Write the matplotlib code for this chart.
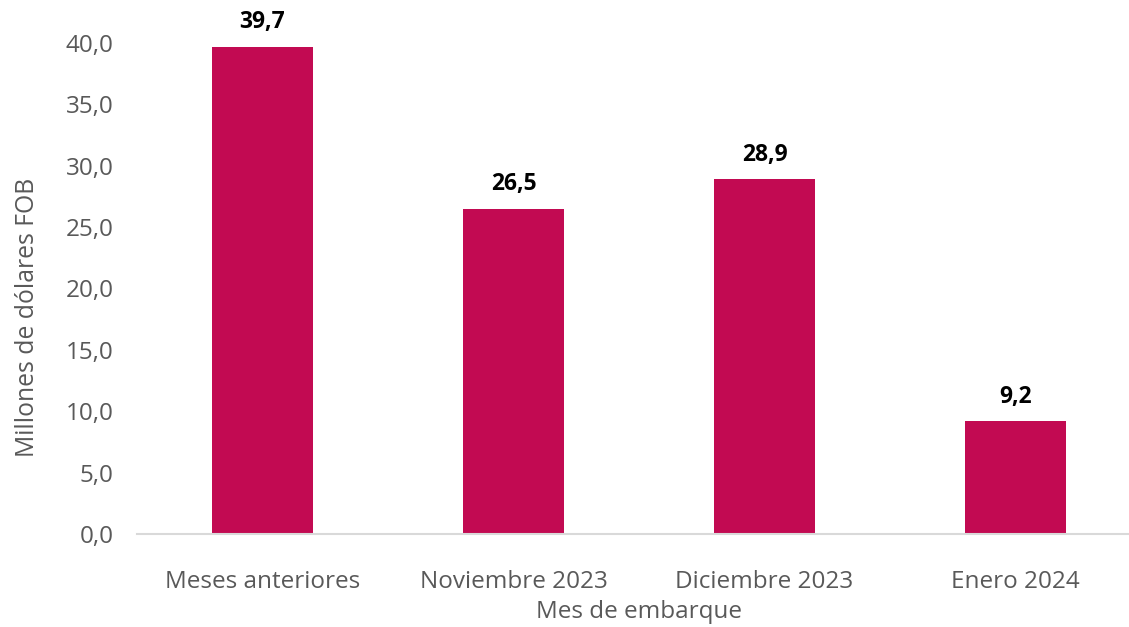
import matplotlib
matplotlib.use("Agg")
import matplotlib.pyplot as plt

categories = ["Meses anteriores", "Noviembre 2023", "Diciembre 2023", "Enero 2024"]
values = [39.7, 26.5, 28.9, 9.2]
yticks = [0, 5, 10, 15, 20, 25, 30, 35, 40]

BAR_COLOR = "#C20A52"
TEXT_GRAY = "#595959"

plt.rcParams["font.family"] = ["Open Sans", "DejaVu Sans"]

fig = plt.figure(figsize=(11.29, 6.27), dpi=100)
# axes run slightly past the right edge, as in the original export
ax = fig.add_axes([137 / 1129, 1 - 534 / 627, 1004 / 1129, 491 / 627])

x = range(len(categories))
ax.bar(x, values, width=0.4, color=BAR_COLOR, zorder=2)
for xi, v in zip(x, values):
    ax.text(xi, v + 1.0, f"{v:.1f}".replace(".", ","), ha="center", va="bottom",
            fontsize=16.5, fontweight="bold", color="black")

ax.set_xlim(-0.5, len(categories) - 0.5)
ax.set_ylim(0, 40)
ax.set_yticks(yticks)
ax.set_yticklabels([f"{t:.1f}".replace(".", ",") for t in yticks])
ax.set_xticks(list(x))
ax.set_xticklabels(categories)
ax.tick_params(axis="both", length=0, labelsize=17.5, labelcolor=TEXT_GRAY)
ax.tick_params(axis="x", pad=26)
ax.tick_params(axis="y", pad=17)

for side in ["top", "right", "left"]:
    ax.spines[side].set_visible(False)
ax.spines["bottom"].set_color("#D9D9D9")
ax.spines["bottom"].set_linewidth(1.5)

ax.set_xlabel("Mes de embarque", fontsize=17.5, color=TEXT_GRAY, labelpad=4)
fig.text(28 / 1129, 1 - 317 / 627, "Millones de dólares FOB", rotation=90,
         ha="center", va="center", fontsize=17.8, color=TEXT_GRAY)

fig.savefig("out.png", dpi=100)
